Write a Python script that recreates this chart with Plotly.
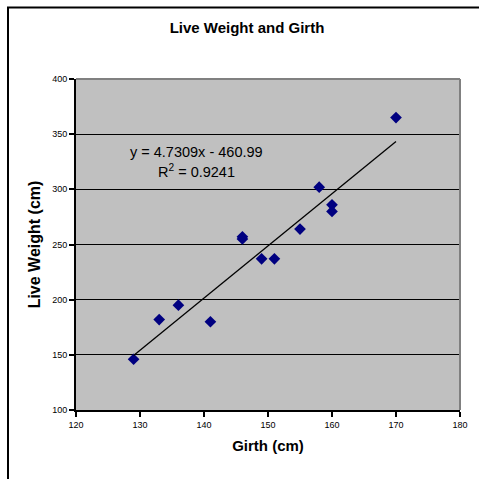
import plotly.graph_objects as go

girth = [129, 133, 136, 141, 146, 146, 149, 151, 155, 158, 160, 160, 170]
live_weight = [146, 182, 195, 180, 257, 255, 237, 237, 264, 302, 286, 280, 365]
slope = 4.7309
intercept = -460.99
r_squared = 0.9241

x_ticks = [120, 130, 140, 150, 160, 170, 180]
y_ticks = [100, 150, 200, 250, 300, 350, 400]

FONT = "Liberation Sans, Arial, sans-serif"

fig = go.Figure()
fig.add_trace(go.Scatter(
    x=girth, y=live_weight, mode="markers",
    marker=dict(symbol="diamond", size=9, color="#000080", line=dict(width=0)),
    showlegend=False,
))
x_fit = [min(girth), max(girth)]
y_fit = [slope * v + intercept for v in x_fit]
fig.add_trace(go.Scatter(
    x=x_fit, y=y_fit, mode="lines",
    line=dict(color="black", width=1.3), showlegend=False,
))

fig.update_layout(
    width=479, height=479,
    margin=dict(l=76, r=19, t=79, b=69),
    paper_bgcolor="white", plot_bgcolor="#C0C0C0",
    font=dict(family=FONT, color="black"),
    title=dict(text="<b>Live Weight and Girth</b>", x=247 / 479, xanchor="center",
               y=1 - 28 / 479, yanchor="middle", font=dict(size=15, family=FONT)),
    xaxis=dict(range=[120, 180], tickvals=x_ticks, showgrid=False, zeroline=False,
               showline=True, linecolor="black", linewidth=2,
               ticks="outside", ticklen=5, tickwidth=1.5, tickcolor="black",
               tickfont=dict(size=9),
               title=dict(text="<b>Girth (cm)</b>", font=dict(size=15), standoff=12)),
    yaxis=dict(range=[100, 400], tickvals=y_ticks, showgrid=True, gridcolor="black",
               gridwidth=1, zeroline=False,
               showline=True, linecolor="black", linewidth=2,
               ticks="outside", ticklen=5, tickwidth=1.5, tickcolor="black",
               tickfont=dict(size=9),
               title=dict(text="<b>Live Weight (cm)</b>", font=dict(size=16), standoff=8)),
    shapes=[
        dict(type="line", xref="paper", yref="paper", x0=0, x1=1, y0=1, y1=1,
             line=dict(color="#808080", width=2), layer="above"),
        dict(type="line", xref="paper", yref="paper", x0=1, x1=1, y0=0, y1=1,
             line=dict(color="#808080", width=2), layer="above"),
        dict(type="rect", xref="paper", yref="paper",
             x0=(8 - 76) / 384, x1=1.2, y0=-0.3, y1=(410 - 7.5) / 331,
             line=dict(color="black", width=2), layer="below"),
    ],
    annotations=[
        dict(x=138.9, y=333.8, xref="x", yref="y", showarrow=False,
             text=f"y = {slope}x - {abs(intercept)}", font=dict(size=14.5)),
        dict(x=138.9, y=316.6, xref="x", yref="y", showarrow=False,
             text=f"R<sup>2</sup> = {r_squared}", font=dict(size=14.5)),
    ],
)

fig.write_html("out.html")
